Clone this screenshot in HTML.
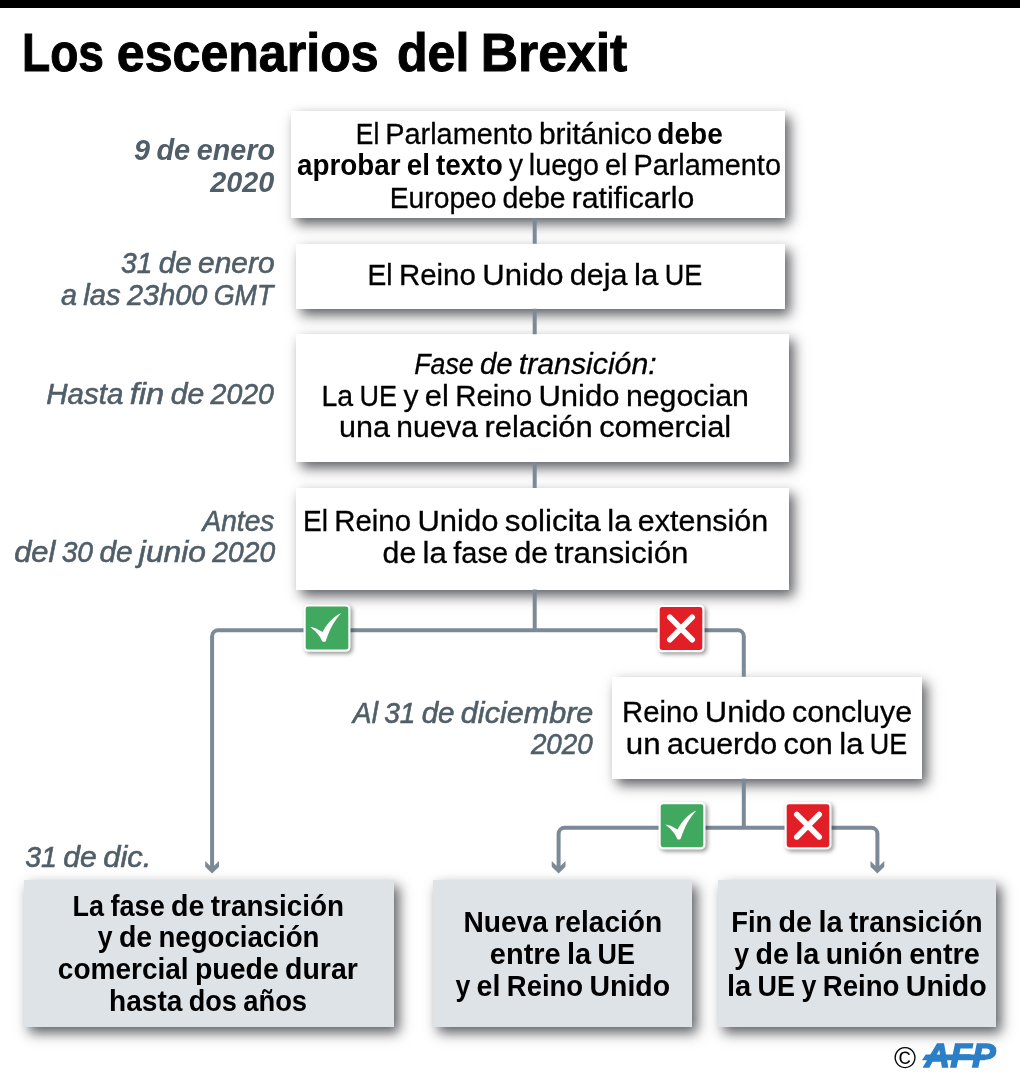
<!DOCTYPE html>
<html lang="es">
<head>
<meta charset="utf-8">
<title>Los escenarios del Brexit</title>
<style>
html,body{margin:0;padding:0;background:#fff}
body{width:1020px;height:1092px;position:relative;overflow:hidden;font-family:"Liberation Sans",sans-serif}
.topbar{position:absolute;left:0;top:0;width:1020px;height:7.7px;background:#000}
.box{position:absolute;background:#fff;box-shadow:5px 6px 12px rgba(25,27,33,.7)}
.box.g{background:#dde3e7}
svg.ov{position:absolute;left:0;top:0}
svg text{font-family:"Liberation Sans",sans-serif;fill:#000}
.title{font-weight:bold;font-size:53px;stroke:#000;stroke-width:1px}
.r{font-size:29.7px;stroke:#000;stroke-width:.3px}
.b{font-size:29.7px;font-weight:bold}
.i{font-size:29.7px;font-style:italic;stroke:#000;stroke-width:.3px}
.di{font-size:29.7px;font-style:italic;fill:#505e68;stroke:#505e68;stroke-width:.6px}
.dbi{font-size:29.7px;font-style:italic;font-weight:bold;fill:#505e68}
.ln{fill:none;stroke:#7b8a96;stroke-width:4}
.ic{filter:drop-shadow(2px 2.2px 2px rgba(0,0,0,.42))}
</style>
</head>
<body>
<div class="topbar"></div>
<div class="box" style="left:291px;top:111px;width:494.3px;height:107.3px"></div>
<div class="box" style="left:295.8px;top:243.8px;width:489.5px;height:64.9px"></div>
<div class="box" style="left:295.8px;top:334.2px;width:493.5px;height:128.3px"></div>
<div class="box" style="left:296px;top:487.9px;width:493.3px;height:101.7px"></div>
<div class="box" style="left:612px;top:676.8px;width:310px;height:101.8px"></div>
<div class="box g" style="left:23.5px;top:879.7px;width:370.5px;height:147.1px"></div>
<div class="box g" style="left:433.2px;top:879.7px;width:259.3px;height:147.1px"></div>
<div class="box g" style="left:717.8px;top:879.7px;width:278.7px;height:147.1px"></div>
<svg class="ov" width="1020" height="1092" viewBox="0 0 1020 1092">
<g class="ln">
<path d="M534.7 218.3V243.8M534.7 308.7V334.2M534.7 462.5V487.9M534.7 589.6V630.3"/>
<path d="M212.1 866V636.3a6 6 0 0 1 6-6H737.8a6 6 0 0 1 6 6V676.8"/>
<path d="M743.8 778.6V827.8"/>
<path d="M558.6 866V833.8a6 6 0 0 1 6-6H871.4a6 6 0 0 1 6 6V866"/>
</g>
<g fill="#7b8a96">
<path d="M0 0L-6.9 -6.8V-12.5L-2 -7.8H2L6.9 -12.5V-6.8Z" transform="translate(212.1 873.6)"/>
<path d="M0 0L-6.9 -6.8V-12.5L-2 -7.8H2L6.9 -12.5V-6.8Z" transform="translate(558.6 873.6)"/>
<path d="M0 0L-6.9 -6.8V-12.5L-2 -7.8H2L6.9 -12.5V-6.8Z" transform="translate(877.4 873.6)"/>
</g>
<g class="ic" transform="translate(303.5 604.4)"><rect x="0" y="0" width="47" height="47.4" rx="4.5" fill="#fff"/><rect x="2.2" y="2.2" width="42.6" height="43" rx="2.4" fill="#41a860"/><path transform="translate(1.9 1.9)" fill="#fff" d="M4.9 20.6C8.4 20.7 12.9 23 17.2 25.7C20.9 18.4 27.4 10.4 36 6.6C29.4 13.4 23.9 23.4 20.4 34.7Q20.2 35.5 19.4 35.5H17.6Q16.9 35.5 16.6 34.7C15 30.5 12.4 26.5 4.9 20.6Z"/></g>
<g class="ic" transform="translate(657.5 604.8)"><rect x="0" y="0" width="47" height="47.4" rx="4.5" fill="#fff"/><rect x="2.2" y="2.2" width="42.6" height="43" rx="2.4" fill="#e21f26"/><path stroke="#fff" stroke-width="5.6" stroke-linecap="round" fill="none" d="M12.3 12.5L34.7 34.9M34.7 12.5L12.3 34.9"/></g>
<g class="ic" transform="translate(658.5 802)"><rect x="0" y="0" width="47" height="47.4" rx="4.5" fill="#fff"/><rect x="2.2" y="2.2" width="42.6" height="43" rx="2.4" fill="#41a860"/><path transform="translate(1.9 1.9)" fill="#fff" d="M4.9 20.6C8.4 20.7 12.9 23 17.2 25.7C20.9 18.4 27.4 10.4 36 6.6C29.4 13.4 23.9 23.4 20.4 34.7Q20.2 35.5 19.4 35.5H17.6Q16.9 35.5 16.6 34.7C15 30.5 12.4 26.5 4.9 20.6Z"/></g>
<g class="ic" transform="translate(784.5 802)"><rect x="0" y="0" width="47" height="47.4" rx="4.5" fill="#fff"/><rect x="2.2" y="2.2" width="42.6" height="43" rx="2.4" fill="#e21f26"/><path stroke="#fff" stroke-width="5.6" stroke-linecap="round" fill="none" d="M12.3 12.5L34.7 34.9M34.7 12.5L12.3 34.9"/></g>
<text class="title" y="71.3"><tspan x="22.02" textLength="81.95" lengthAdjust="spacingAndGlyphs">Los</tspan> <tspan x="116.78" textLength="261.89" lengthAdjust="spacingAndGlyphs">escenarios</tspan> <tspan x="396.9" textLength="72.5" lengthAdjust="spacingAndGlyphs">del</tspan> <tspan x="480.74" textLength="146.56" lengthAdjust="spacingAndGlyphs">Brexit</tspan></text>
<text class="dbi" y="160.4"><tspan x="133.94" textLength="16.02" lengthAdjust="spacingAndGlyphs">9</tspan> <tspan x="156.4" textLength="33.87" lengthAdjust="spacingAndGlyphs">de</tspan> <tspan x="196.72" textLength="78.25" lengthAdjust="spacingAndGlyphs">enero</tspan></text>
<text class="dbi" y="192.2"><tspan x="210.25" textLength="64.06" lengthAdjust="spacingAndGlyphs">2020</tspan></text>
<text class="di" y="273.4"><tspan x="121.04" textLength="31.31" lengthAdjust="spacingAndGlyphs">31</tspan> <tspan x="158.65" textLength="33.11" lengthAdjust="spacingAndGlyphs">de</tspan> <tspan x="198.06" textLength="76.49" lengthAdjust="spacingAndGlyphs">enero</tspan></text>
<text class="di" y="305"><tspan x="60.95" textLength="15.99" lengthAdjust="spacingAndGlyphs">a</tspan> <tspan x="83.29" textLength="37.38" lengthAdjust="spacingAndGlyphs">las</tspan> <tspan x="127.02" textLength="80.35" lengthAdjust="spacingAndGlyphs">23h00</tspan> <tspan x="213.72" textLength="59.66" lengthAdjust="spacingAndGlyphs">GMT</tspan></text>
<text class="di" y="403.9"><tspan x="46.27" textLength="77.07" lengthAdjust="spacingAndGlyphs">Hasta</tspan> <tspan x="129.72" textLength="34.6" lengthAdjust="spacingAndGlyphs">fin</tspan> <tspan x="170.69" textLength="33.51" lengthAdjust="spacingAndGlyphs">de</tspan> <tspan x="210.58" textLength="63.39" lengthAdjust="spacingAndGlyphs">2020</tspan></text>
<text class="di" y="530.7"><tspan x="202.41" textLength="72.02" lengthAdjust="spacingAndGlyphs">Antes</tspan></text>
<text class="di" y="562.3"><tspan x="14.15" textLength="41.23" lengthAdjust="spacingAndGlyphs">del</tspan> <tspan x="61.7" textLength="31.38" lengthAdjust="spacingAndGlyphs">30</tspan> <tspan x="99.4" textLength="33.18" lengthAdjust="spacingAndGlyphs">de</tspan> <tspan x="138.89" textLength="67.12" lengthAdjust="spacingAndGlyphs">junio</tspan> <tspan x="212.33" textLength="62.77" lengthAdjust="spacingAndGlyphs">2020</tspan></text>
<text class="di" y="722.6"><tspan x="352.85" textLength="25.06" lengthAdjust="spacingAndGlyphs">Al</tspan> <tspan x="384.18" textLength="31.17" lengthAdjust="spacingAndGlyphs">31</tspan> <tspan x="421.63" textLength="32.96" lengthAdjust="spacingAndGlyphs">de</tspan> <tspan x="460.86" textLength="132.47" lengthAdjust="spacingAndGlyphs">diciembre</tspan></text>
<text class="di" y="754.3"><tspan x="530.89" textLength="61.83" lengthAdjust="spacingAndGlyphs">2020</tspan></text>
<text class="di" y="866.6"><tspan x="25.19" textLength="31.72" lengthAdjust="spacingAndGlyphs">31</tspan> <tspan x="63.3" textLength="33.54" lengthAdjust="spacingAndGlyphs">de</tspan> <tspan x="103.22" textLength="48.07" lengthAdjust="spacingAndGlyphs">dic.</tspan></text>
<text class="r" y="143.5"><tspan x="355.85" textLength="23.43" lengthAdjust="spacingAndGlyphs">El</tspan> <tspan x="385.28" textLength="147.65" lengthAdjust="spacingAndGlyphs">Parlamento</tspan> <tspan x="538.92" textLength="113.23" lengthAdjust="spacingAndGlyphs">británico</tspan></text>
<text class="b" y="143.5"><tspan x="657.32" textLength="65.41" lengthAdjust="spacingAndGlyphs">debe</tspan></text>
<text class="b" y="175.4"><tspan x="297.06" textLength="103.45" lengthAdjust="spacingAndGlyphs">aprobar</tspan> <tspan x="406.69" textLength="23.18" lengthAdjust="spacingAndGlyphs">el</tspan> <tspan x="436.04" textLength="66.66" lengthAdjust="spacingAndGlyphs">texto</tspan></text>
<text class="r" y="175.4"><tspan x="508.88" textLength="13.98" lengthAdjust="spacingAndGlyphs">y</tspan> <tspan x="528.85" textLength="70.09" lengthAdjust="spacingAndGlyphs">luego</tspan> <tspan x="604.93" textLength="22.49" lengthAdjust="spacingAndGlyphs">el</tspan> <tspan x="633.4" textLength="147.55" lengthAdjust="spacingAndGlyphs">Parlamento</tspan></text>
<text class="r" y="207.5"><tspan x="389.75" textLength="106.79" lengthAdjust="spacingAndGlyphs">Europeo</tspan> <tspan x="502.54" textLength="63.12" lengthAdjust="spacingAndGlyphs">debe</tspan> <tspan x="571.67" textLength="122.53" lengthAdjust="spacingAndGlyphs">ratificarlo</tspan></text>
<text class="r" y="284.7"><tspan x="367.49" textLength="25.06" lengthAdjust="spacingAndGlyphs">El</tspan> <tspan x="398.95" textLength="76.9" lengthAdjust="spacingAndGlyphs">Reino</tspan> <tspan x="482.25" textLength="81.22" lengthAdjust="spacingAndGlyphs">Unido</tspan> <tspan x="569.88" textLength="57.74" lengthAdjust="spacingAndGlyphs">deja</tspan> <tspan x="634.03" textLength="24.32" lengthAdjust="spacingAndGlyphs">la</tspan> <tspan x="664.75" textLength="37.55" lengthAdjust="spacingAndGlyphs">UE</tspan></text>
<text class="i" y="373.7"><tspan x="414.25" textLength="59.43" lengthAdjust="spacingAndGlyphs">Fase</tspan> <tspan x="479.89" textLength="32.65" lengthAdjust="spacingAndGlyphs">de</tspan> <tspan x="518.75" textLength="137.96" lengthAdjust="spacingAndGlyphs">transición:</tspan></text>
<text class="r" y="405.6"><tspan x="321.49" textLength="31.68" lengthAdjust="spacingAndGlyphs">La</tspan> <tspan x="359.56" textLength="37.5" lengthAdjust="spacingAndGlyphs">UE</tspan> <tspan x="403.46" textLength="14.94" lengthAdjust="spacingAndGlyphs">y</tspan> <tspan x="424.8" textLength="24.03" lengthAdjust="spacingAndGlyphs">el</tspan> <tspan x="455.23" textLength="76.79" lengthAdjust="spacingAndGlyphs">Reino</tspan> <tspan x="538.42" textLength="81.11" lengthAdjust="spacingAndGlyphs">Unido</tspan> <tspan x="625.92" textLength="122.93" lengthAdjust="spacingAndGlyphs">negocian</tspan></text>
<text class="r" y="437.45"><tspan x="338.99" textLength="50.95" lengthAdjust="spacingAndGlyphs">una</tspan> <tspan x="396.33" textLength="81.71" lengthAdjust="spacingAndGlyphs">nueva</tspan> <tspan x="484.43" textLength="108.38" lengthAdjust="spacingAndGlyphs">relación</tspan> <tspan x="599.19" textLength="131.95" lengthAdjust="spacingAndGlyphs">comercial</tspan></text>
<text class="r" y="531.2"><tspan x="302.94" textLength="24.99" lengthAdjust="spacingAndGlyphs">El</tspan> <tspan x="334.32" textLength="76.69" lengthAdjust="spacingAndGlyphs">Reino</tspan> <tspan x="417.4" textLength="81" lengthAdjust="spacingAndGlyphs">Unido</tspan> <tspan x="504.79" textLength="96.05" lengthAdjust="spacingAndGlyphs">solicita</tspan> <tspan x="607.23" textLength="24.25" lengthAdjust="spacingAndGlyphs">la</tspan> <tspan x="637.88" textLength="130.27" lengthAdjust="spacingAndGlyphs">extensión</tspan></text>
<text class="r" y="563"><tspan x="382.64" textLength="33.61" lengthAdjust="spacingAndGlyphs">de</tspan> <tspan x="422.64" textLength="24.27" lengthAdjust="spacingAndGlyphs">la</tspan> <tspan x="453.31" textLength="54.72" lengthAdjust="spacingAndGlyphs">fase</tspan> <tspan x="514.43" textLength="33.61" lengthAdjust="spacingAndGlyphs">de</tspan> <tspan x="554.44" textLength="134.06" lengthAdjust="spacingAndGlyphs">transición</tspan></text>
<text class="r" y="722.2"><tspan x="622" textLength="76.51" lengthAdjust="spacingAndGlyphs">Reino</tspan> <tspan x="704.89" textLength="80.82" lengthAdjust="spacingAndGlyphs">Unido</tspan> <tspan x="792.08" textLength="119.97" lengthAdjust="spacingAndGlyphs">concluye</tspan></text>
<text class="r" y="754.2"><tspan x="625.89" textLength="34.84" lengthAdjust="spacingAndGlyphs">un</tspan> <tspan x="667.12" textLength="110" lengthAdjust="spacingAndGlyphs">acuerdo</tspan> <tspan x="783.51" textLength="49.34" lengthAdjust="spacingAndGlyphs">con</tspan> <tspan x="839.24" textLength="24.24" lengthAdjust="spacingAndGlyphs">la</tspan> <tspan x="869.87" textLength="37.43" lengthAdjust="spacingAndGlyphs">UE</tspan></text>
<text class="b" y="915.6"><tspan x="72.61" textLength="31.44" lengthAdjust="spacingAndGlyphs">La</tspan> <tspan x="110.4" textLength="54.34" lengthAdjust="spacingAndGlyphs">fase</tspan> <tspan x="171.09" textLength="33.38" lengthAdjust="spacingAndGlyphs">de</tspan> <tspan x="210.81" textLength="133.12" lengthAdjust="spacingAndGlyphs">transición</tspan></text>
<text class="b" y="947.4"><tspan x="97.8" textLength="14.78" lengthAdjust="spacingAndGlyphs">y</tspan> <tspan x="118.91" textLength="33.27" lengthAdjust="spacingAndGlyphs">de</tspan> <tspan x="158.5" textLength="160.98" lengthAdjust="spacingAndGlyphs">negociación</tspan></text>
<text class="b" y="979"><tspan x="57.81" textLength="130.81" lengthAdjust="spacingAndGlyphs">comercial</tspan> <tspan x="194.94" textLength="83.78" lengthAdjust="spacingAndGlyphs">puede</tspan> <tspan x="285.06" textLength="72.73" lengthAdjust="spacingAndGlyphs">durar</tspan></text>
<text class="b" y="1011.2"><tspan x="109.11" textLength="73.3" lengthAdjust="spacingAndGlyphs">hasta</tspan> <tspan x="188.75" textLength="48.12" lengthAdjust="spacingAndGlyphs">dos</tspan> <tspan x="243.22" textLength="63.87" lengthAdjust="spacingAndGlyphs">años</tspan></text>
<text class="b" y="931.7"><tspan x="463.56" textLength="84.46" lengthAdjust="spacingAndGlyphs">Nueva</tspan> <tspan x="554.37" textLength="107.82" lengthAdjust="spacingAndGlyphs">relación</tspan></text>
<text class="b" y="963.6"><tspan x="489.83" textLength="70.85" lengthAdjust="spacingAndGlyphs">entre</tspan> <tspan x="567.06" textLength="24.18" lengthAdjust="spacingAndGlyphs">la</tspan> <tspan x="597.61" textLength="37.34" lengthAdjust="spacingAndGlyphs">UE</tspan></text>
<text class="b" y="995.5"><tspan x="455.38" textLength="14.85" lengthAdjust="spacingAndGlyphs">y</tspan> <tspan x="476.59" textLength="23.88" lengthAdjust="spacingAndGlyphs">el</tspan> <tspan x="506.82" textLength="76.31" lengthAdjust="spacingAndGlyphs">Reino</tspan> <tspan x="589.49" textLength="80.6" lengthAdjust="spacingAndGlyphs">Unido</tspan></text>
<text class="b" y="931.7"><tspan x="731.2" textLength="41" lengthAdjust="spacingAndGlyphs">Fin</tspan> <tspan x="778.58" textLength="33.48" lengthAdjust="spacingAndGlyphs">de</tspan> <tspan x="818.43" textLength="24.18" lengthAdjust="spacingAndGlyphs">la</tspan> <tspan x="848.99" textLength="133.56" lengthAdjust="spacingAndGlyphs">transición</tspan></text>
<text class="b" y="963.6"><tspan x="734.28" textLength="14.85" lengthAdjust="spacingAndGlyphs">y</tspan> <tspan x="755.49" textLength="33.42" lengthAdjust="spacingAndGlyphs">de</tspan> <tspan x="795.26" textLength="24.13" lengthAdjust="spacingAndGlyphs">la</tspan> <tspan x="825.75" textLength="77.13" lengthAdjust="spacingAndGlyphs">unión</tspan> <tspan x="909.24" textLength="70.71" lengthAdjust="spacingAndGlyphs">entre</tspan></text>
<text class="b" y="995.5"><tspan x="726.94" textLength="24.25" lengthAdjust="spacingAndGlyphs">la</tspan> <tspan x="757.58" textLength="37.44" lengthAdjust="spacingAndGlyphs">UE</tspan> <tspan x="801.41" textLength="14.92" lengthAdjust="spacingAndGlyphs">y</tspan> <tspan x="822.71" textLength="76.67" lengthAdjust="spacingAndGlyphs">Reino</tspan> <tspan x="905.77" textLength="80.98" lengthAdjust="spacingAndGlyphs">Unido</tspan></text>
<text x="894" y="1067.7" style="font-size:30px">©</text>
<g fill="#2b7fc6">
<text x="924.6" y="1066.7" style="font-size:34px;font-weight:bold;font-style:italic;fill:#2b7fc6;stroke:#2b7fc6;stroke-width:1.3px;stroke-linejoin:miter" textLength="71" lengthAdjust="spacingAndGlyphs">AFP</text>
<path d="M925.8 1054.5H985V1060.2H921.9Z"/>
</g>
</svg>
</body>
</html>
